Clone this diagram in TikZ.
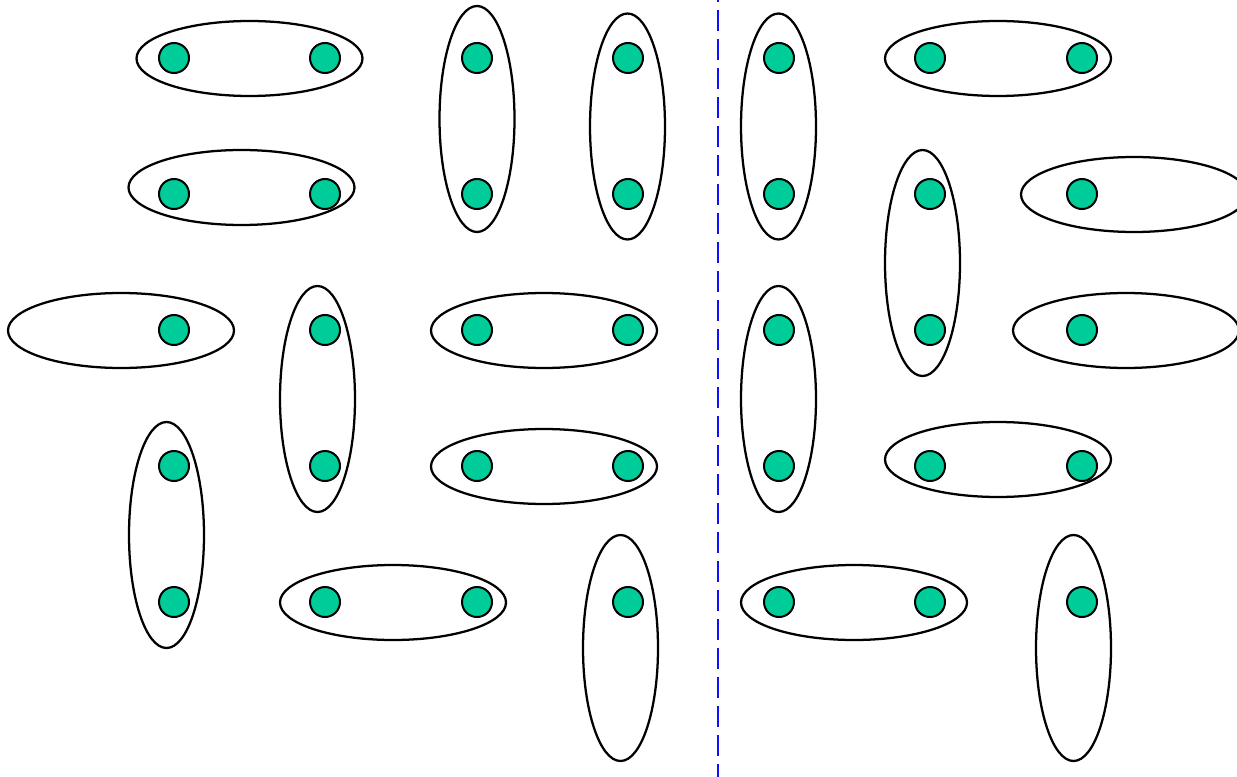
\documentclass[tikz,border=0pt]{standalone}
\definecolor{dotfill}{HTML}{00CC99}
\definecolor{dashblue}{HTML}{1010FF}
\begin{document}
\begin{tikzpicture}[x=0.75pt,y=-0.75pt,
  dot/.style={circle,draw=black,fill=dotfill,line width=1.5pt,minimum size=22.5pt,inner sep=0pt},
  hell/.style={draw=black,line width=1.7pt,x radius=113,y radius=37.5},
  vell/.style={draw=black,line width=1.7pt,x radius=37.5,y radius=113}]
\useasboundingbox (0,0) rectangle (1237,777);
\clip (0,0) rectangle (1237,777);
% ellipses
\draw[hell] (249.5,58.5) ellipse [];
\draw[vell] (477,119) ellipse [];
\draw[vell] (627.5,126.5) ellipse [];
\draw[vell] (778.5,126.5) ellipse [];
\draw[hell] (998,58.5) ellipse [];
\draw[hell] (241.5,187.5) ellipse [];
\draw[vell] (922.5,263) ellipse [];
\draw[hell] (1134,194.5) ellipse [];
\draw[hell] (121,330.5) ellipse [];
\draw[vell] (317.5,399) ellipse [];
\draw[hell] (544,330.5) ellipse [];
\draw[vell] (778.5,399) ellipse [];
\draw[hell] (1126,330.5) ellipse [];
\draw[vell] (166.5,535) ellipse [];
\draw[hell] (544,466.5) ellipse [];
\draw[hell] (998,459.5) ellipse [];
\draw[hell] (393,602.5) ellipse [];
\draw[vell] (620.5,648) ellipse [];
\draw[hell] (854,602.5) ellipse [];
\draw[vell] (1073.5,648) ellipse [];
% dots
\foreach \c [count=\i] in {174,325,477,628,779,930,1082}{
  \foreach \r [count=\j] in {58,194,330,466,602}{
    \node[dot] (d\i-\j) at (\c,\r) {};
  }
}
% divider
\coordinate (top) at (718,0);
\coordinate (bot) at (718,777);
\draw[dashblue,line width=2.2pt,dash pattern=on 15.75pt off 6pt,dash phase=14.25pt] (top) -- (bot);
\end{tikzpicture}
\end{document}
